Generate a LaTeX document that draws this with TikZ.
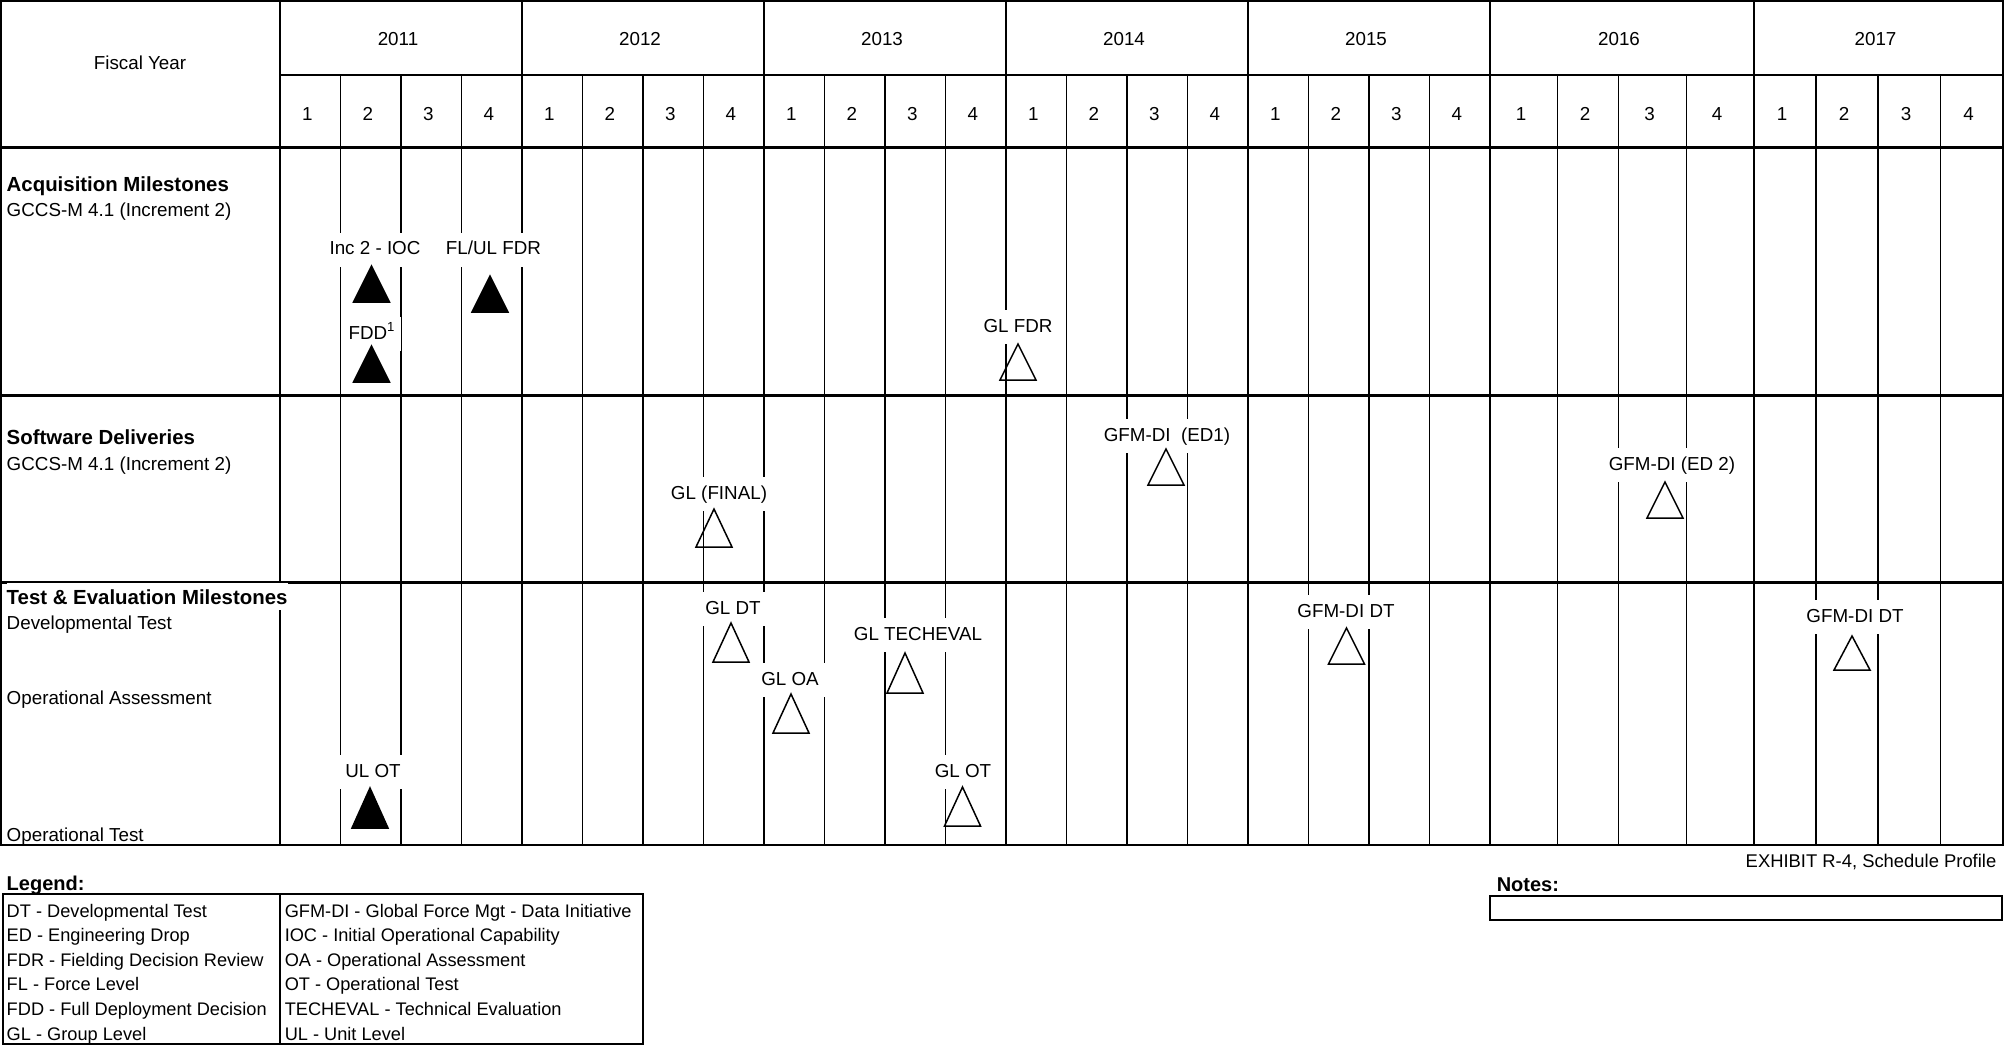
\documentclass[tikz,border=0pt]{standalone}
\usepackage{fontspec}
\setmainfont{Liberation Sans}
\usepackage{tikz}
\tikzset{ms/.style={fill=white,inner xsep=3pt,inner ysep=4pt,text height=7pt,text depth=2pt,anchor=base}}
\tikzset{head/.style={anchor=base west,inner xsep=0pt,inner ysep=3pt,fill=white,font=\fontsize{10.2pt}{12pt}\selectfont\bfseries}}
\tikzset{sub/.style={anchor=base west,inner sep=0pt}}
\tikzset{leg/.style={anchor=base west,inner sep=0pt,font=\fontsize{9.1pt}{11pt}\selectfont}}

\begin{document}
\begin{tikzpicture}[x=0.5pt, y=-0.5pt, line width=0.75pt, font=\fontsize{9.4pt}{11pt}\selectfont]
        \tikzstyle{done}=[draw=black,fill=black]
        \tikzstyle{plan}=[draw=black]
        \tikzstyle{heavy}=[line width=1.5pt]
        \useasboundingbox (0,0) rectangle (2006,1048);
        % grid
        \foreach \k in {1,...,19} \draw (280+60.5*\k,75) -- (280+60.5*\k,845);
        \foreach \x in {1557.5,1618.5,1686.5,1816,1878,1940.5} \draw (\x,75) -- (\x,845);
        \foreach \x in {280,522,764,1006,1248,1490,1754} \draw (\x,1) -- (\x,845);
        \draw (280,75) -- (2003,75);
        \draw[heavy] (1,148) -- (2003,148);
        \draw[heavy] (1,395) -- (2003,395);
        \draw[heavy] (1,582) -- (2003,582);
        \draw[line width=1pt] (1,1) rectangle (2003,845);
        % header
        \node (FY) at (140,63) {Fiscal Year};
        \foreach \y [count=\i from 0] in {2011,...,2015} \node (Y\y) at (398+242*\i,39) {\y};
        \node (Y2016) at (1619,39) {2016};
        \node (Y2017) at (1875.5,39) {2017};
        \foreach \k in {0,...,19} {
          \pgfmathtruncatemacro\q{mod(\k,4)+1}
          \node (Q\k) at (307.25+60.5*\k,114) {\q};
        }
        \foreach \c/\q [count=\i from 20] in {1521/1,1585/2,1649.5/3,1717/4,1782/1,1844/2,1906/3,1968.5/4} \node (Q\i) at (\c,114) {\q};
        % rows
        \node[head] (AM) at (6,192) {Acquisition Milestones};
        \node[sub] (AG) at (6,217) {GCCS-M 4.1 (Increment 2)};
        \node[head] (SD) at (6,444) {Software Deliveries};
        \node[sub] (SG) at (6,470) {GCCS-M 4.1 (Increment 2)};
        \node[head] (TE) at (6,604) {Test \& Evaluation Milestones};
        \node[sub] (DT) at (6,629) {Developmental Test};
        \node[sub] (OA) at (6,704) {Operational Assessment};
        \node[sub] (OT) at (6,841) {Operational Test};
        % milestone labels
        \node[ms] (A1) at (375,255) {Inc 2 - IOC};
        \node[ms] (A2) at (493.5,255) {FL/UL FDR};
        \node[ms] (A3) at (372,339) {FDD\textsuperscript{1}};
        \node[ms] (A4) at (1018,332) {GL FDR};
        \node[ms] (S1) at (1167,441) {GFM-DI~~(ED1)};
        \node[ms] (S2) at (1672,470) {GFM-DI (ED 2)};
        \node[ms] (S3) at (719,499) {GL (FINAL)};
        \node[ms] (T1) at (733,614) {GL DT};
        \node[ms] (T2) at (918,640) {GL TECHEVAL};
        \node[ms] (T3) at (790,685) {GL OA};
        \node[ms] (T4) at (373,777) {UL OT};
        \node[ms] (T5) at (963,777) {GL OT};
        \node[ms] (T6) at (1346,617) {GFM-DI DT};
        \node[ms] (T7) at (1855,622) {GFM-DI DT};
        % triangles
        \draw[done] (371.5,266) -- ++(-18,36) -- ++(36,0) -- cycle;
        \draw[done] (490,276) -- ++(-18,36) -- ++(36,0) -- cycle;
        \draw[done] (371.5,346) -- ++(-18,36) -- ++(36,0) -- cycle;
        \draw[plan] (1018,344) -- ++(-18,36) -- ++(36,0) -- cycle;
        \draw[plan] (1166,449) -- ++(-18,36) -- ++(36,0) -- cycle;
        \draw[plan] (1665,482) -- ++(-18,36) -- ++(36,0) -- cycle;
        \draw[plan] (714,509) -- ++(-18,38) -- ++(36,0) -- cycle;
        \draw[plan] (731,623) -- ++(-18,39) -- ++(36,0) -- cycle;
        \draw[plan] (905,653) -- ++(-18,40) -- ++(36,0) -- cycle;
        \draw[plan] (791,694) -- ++(-18,39) -- ++(36,0) -- cycle;
        \draw[done] (370,788) -- ++(-18,40) -- ++(36,0) -- cycle;
        \draw[plan] (962.5,787) -- ++(-18,39) -- ++(36,0) -- cycle;
        \draw[plan] (1346.5,628) -- ++(-18,36) -- ++(36,0) -- cycle;
        \draw[plan] (1852,636) -- ++(-18,34) -- ++(36,0) -- cycle;
        % legend and notes
        \node[sub,font=\fontsize{10pt}{12pt}\selectfont\bfseries] (LG) at (6,890) {Legend:};
        \draw[line width=1pt] (3,894) rectangle (643,1044);
        \draw (280,894) -- (280,1044);
        \foreach \t [count=\i] in {DT - Developmental Test, ED - Engineering Drop, FDR - Fielding Decision Review, FL - Force Level, FDD - Full Deployment Decision, GL - Group Level} \node[leg] (L\i) at (6,892.4+24.6*\i) {\t};
        \foreach \t [count=\i] in {GFM-DI - Global Force Mgt - Data Initiative, IOC - Initial Operational Capability, OA - Operational Assessment, OT - Operational Test, TECHEVAL - Technical Evaluation, UL - Unit Level} \node[leg] (R\i) at (284,892.4+24.6*\i) {\t};
        \node[anchor=base east,inner sep=0pt,font=\fontsize{9.2pt}{11pt}\selectfont] (EX) at (1997,867) {EXHIBIT R-4, Schedule Profile};
        \node[sub,font=\fontsize{10pt}{12pt}\selectfont\bfseries] (NT) at (1496,891) {Notes:};
        \draw[line width=1pt] (1490,896) rectangle (2002,920);
\end{tikzpicture}
\end{document}
